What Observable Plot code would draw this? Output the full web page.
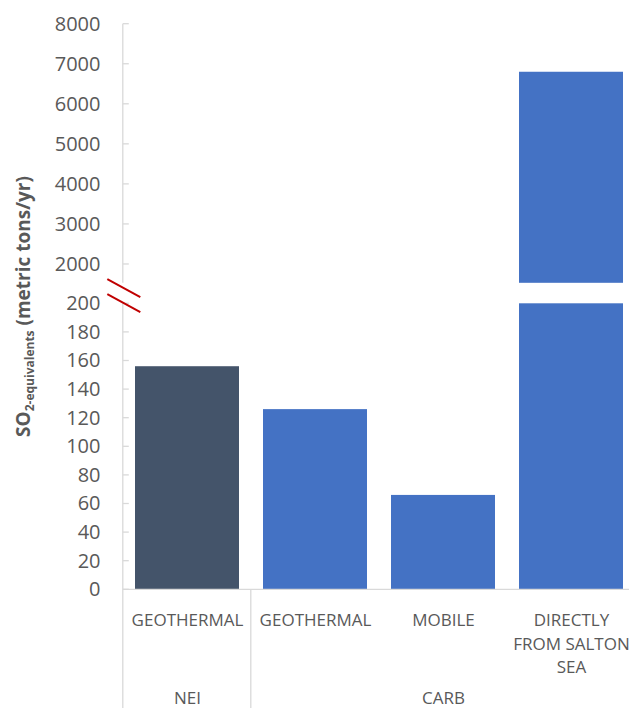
<!DOCTYPE html>
<html><head><meta charset="utf-8">
<script src="https://cdn.jsdelivr.net/npm/d3@7"></script>
<script src="https://cdn.jsdelivr.net/npm/@observablehq/plot@0.6"></script>
<style>
html,body{margin:0;padding:0;background:#fff;}
#chart{width:629px;height:708px;overflow:hidden;}
</style>
</head><body><div id="chart"></div>
<script>
// ---- data ----
const categories = ["GEOTHERMAL", "GEOTHERMAL", "MOBILE", "DIRECTLY\nFROM SALTON\nSEA"];
const sources = ["NEI", "CARB", "CARB", "CARB"];
const values = [156, 126, 66, 6800];
const barColors = ["#44546a", "#4472c4", "#4472c4", "#4472c4"];
const groups = ["NEI", "CARB"];
const lowerTicks = [0, 20, 40, 60, 80, 100, 120, 140, 160, 180, 200];
const upperTicks = [2000, 3000, 4000, 5000, 6000, 7000, 8000];
const breakLow = 200;
const breakHigh = 1530;
const yMax = 8000;

// ---- derived tables ----
const keys = categories.map((c, i) => sources[i] + "|" + c);
const rows = categories.map((c, i) => ({key: keys[i], label: c, source: sources[i], value: values[i], color: barColors[i]}));
const segments = rows.flatMap(r => r.value > breakLow
  ? [{...r, y1: 0, y2: breakLow}, {...r, y1: breakHigh, y2: r.value}]
  : [{...r, y1: 0, y2: r.value}]);
const groupRows = groups.map(g => {
  const members = rows.filter(r => r.source === g);
  return {group: g, first: members[0].key, mid: members[Math.floor(members.length / 2)].key, zero: 0};
});
const allTicks = [...lowerTicks, ...upperTicks];

const W = 629, H = 708;
const xRange = [122.5, 636], padIn = 0.19, padOut = 0.095;
const xOpts = {type: "band", domain: keys, range: xRange, paddingInner: padIn, paddingOuter: padOut};
const step = (xRange[1] - xRange[0]) / (keys.length - padIn + 2 * padOut);
const textColor = "#595959";
const lineColor = "#d9d9d9";

const chart = Plot.plot({
  width: W, height: H,
  marginLeft: 122.5, marginRight: 0, marginTop: 0, marginBottom: 0,
  style: {fontFamily: "'Open Sans', sans-serif", fontSize: "17px", color: textColor, background: "#fff"},
  x: {...xOpts, axis: null},
  y: {type: "linear", domain: [0, breakLow, breakHigh, yMax], range: [589.3, 303.3, 282.8, 23.7], axis: null},
  color: {type: "identity"},
  marks: [
    // bars (split at the axis break)
    Plot.barY(segments, {x: "key", y1: "y1", y2: "y2", fill: "color"}),
    // axis lines, inward ticks, group separators
    (index, scales, values, dimensions) => {
      const x = scales.x, y = scales.y;
      const gap = padIn * step / 2;
      const ax = x(keys[0]) - gap;
      const g = d3.create("svg:g").attr("stroke", lineColor).attr("stroke-width", 1.3).attr("fill", "none");
      // baseline
      g.append("line").attr("x1", ax).attr("x2", dimensions.width).attr("y1", y(0)).attr("y2", y(0));
      // y axis upper panel
      g.append("line").attr("x1", ax).attr("x2", ax).attr("y1", y(yMax)).attr("y2", y(breakHigh));
      // y axis lower panel down to bottom (group border)
      g.append("line").attr("x1", ax).attr("x2", ax).attr("y1", y(breakLow)).attr("y2", dimensions.height);
      // group separators
      for (const gr of groupRows.slice(1)) {
        const sx = x(gr.first) - gap;
        g.append("line").attr("x1", sx).attr("x2", sx).attr("y1", y(0)).attr("y2", dimensions.height);
      }
      // inward tick marks
      for (const t of allTicks) {
        g.append("line").attr("x1", ax).attr("x2", ax + 6).attr("y1", y(t)).attr("y2", y(t));
      }
      return g.node();
    },
    // y tick labels
    Plot.axisY(allTicks, {anchor: "left", tickSize: 0, tickPadding: 22.5, fontSize: 20, fill: textColor, tickFormat: d => String(d), label: null}),
    // category labels
    Plot.text(rows, {x: "key", y: () => 0, text: "label", lineAnchor: "top", dy: 19.5, fontSize: 17, lineHeight: 1.39, fill: textColor}),
    // group labels
    Plot.text(groupRows, {x: "mid", y: "zero", text: "group", dy: 108.5, fontSize: 17, fill: textColor}),
    // axis break marks
    (index, scales, values, dimensions) => {
      const cy = (scales.y(breakLow) + scales.y(breakHigh)) / 2 + 2.5;
      const cx = scales.x(keys[0]) - padIn * step / 2 + 1;
      const g = d3.create("svg:g").attr("stroke", "#c00000").attr("stroke-width", 2);
      for (const off of [-7.5, 7.5]) {
        g.append("line").attr("x1", cx - 16.5).attr("y1", cy + off - 9).attr("x2", cx + 16.5).attr("y2", cy + off + 9);
      }
      return g.node();
    },
    // y axis title with subscript
    () => {
      const t = d3.create("svg:text")
        .attr("transform", "translate(30,306.5) rotate(-90)")
        .attr("text-anchor", "middle")
        .attr("font-family", "'Open Sans', sans-serif")
        .attr("font-weight", "bold")
        .attr("font-size", 19)
        .attr("fill", textColor);
      t.append("tspan").text("SO");
      t.append("tspan").attr("font-size", 12).attr("dy", 4).text("2-equivalents");
      t.append("tspan").attr("dy", -4).text(" (metric tons/yr)");
      return t.node();
    }
  ]
});
document.getElementById("chart").appendChild(chart);
</script>
</body></html>
